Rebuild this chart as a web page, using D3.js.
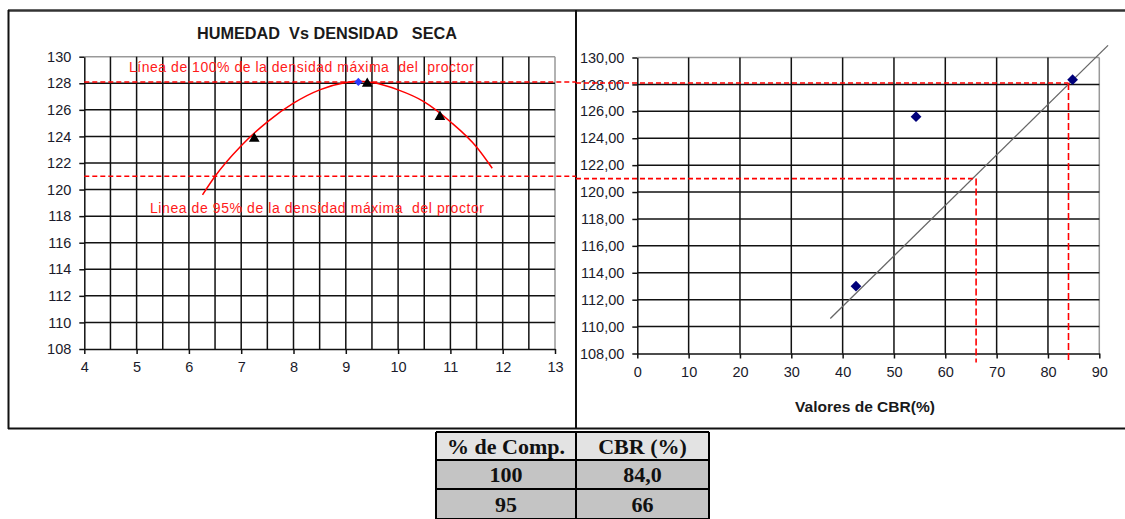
<!DOCTYPE html>
<html>
<head>
<meta charset="utf-8">
<script src="https://cdn.jsdelivr.net/npm/d3@7"></script>
<style>
  html, body { margin: 0; padding: 0; background: #fff; }
  svg { display: block; }
  text { white-space: pre; }
</style>
</head>
<body>
<svg id="chart" width="1125" height="519"></svg>
<script>
// ---- Proctor test: moisture (%) vs dry density ----
const humedad = [7.25, 9.41, 10.80];
const densidadSeca = [123.9, 128.05, 125.55];
// optimum moisture / maximum dry density point
const humedadOptima = [9.24];
const densidadMaxima = [128.1];
// polynomial trendline
const curvaX = [6.26, 6.5, 7.0, 7.5, 8.0, 8.5, 9.0, 9.2, 9.5, 10.0, 10.5, 11.0, 11.5, 11.8];
const curvaY = [119.6, 121.0, 123.3, 125.1, 126.5, 127.5, 128.05, 128.15, 128.05, 127.5, 126.6, 125.1, 123.2, 121.6];

// ---- CBR vs dry density ----
const cbrValores = [42.6, 54.3, 84.8];
const cbrDensidad = [113.0, 125.6, 128.35];
const tendenciaX = [37.6, 91.7];
const tendenciaY = [110.6, 130.9];

// reference density levels (100% and 95% of the proctor)
const nivelesDensidad = [128.1, 121.0];
const etiquetasNivel = ["Línea de 100% de la densidad máxima  del  proctor",
                        "Linea de 95% de la densidad máxima  del proctor"];

// summary table
const tablaEncabezado = ["% de Comp.", "CBR (%)"];
const tablaComp = ["100", "95"];
const tablaCBR = ["84,0", "66"];

// tick values
const ticksHumedad = d3.range(4, 14, 1);
const ticksDensidad = d3.range(108, 131, 2);
const ticksCBR = d3.range(0, 91, 10);

const svg = d3.select("#chart");
const SANS = "'Liberation Sans', Arial, sans-serif";
const SERIF = "'Liberation Serif', 'Times New Roman', serif";

// scales
const xL = d3.scaleLinear().domain([4, 13]).range([84.3, 555]);
const yL = d3.scaleLinear().domain([108, 130]).range([349, 56.7]);
const xR = d3.scaleLinear().domain([0, 90]).range([637.3, 1099.3]);
const yR = d3.scaleLinear().domain([108, 130]).range([353.5, 57.5]);

// ---------- frames ----------
const frame = svg.append("g");
frame.append("line").attr("x1", 8).attr("x2", 1125).attr("y1", 10.5).attr("y2", 10.5)
  .attr("stroke", "#333").attr("stroke-width", 2.5);
frame.append("line").attr("x1", 8).attr("x2", 1125).attr("y1", 428.5).attr("y2", 428.5)
  .attr("stroke", "#111").attr("stroke-width", 2);
frame.append("line").attr("x1", 8.5).attr("x2", 8.5).attr("y1", 10).attr("y2", 429)
  .attr("stroke", "#111").attr("stroke-width", 2);
frame.append("line").attr("x1", 576).attr("x2", 576).attr("y1", 10).attr("y2", 429)
  .attr("stroke", "#111").attr("stroke-width", 2);

// ---------- helper: grid + axes ----------
function drawPanel(g, x, y, xGrid, yGrid, xTicks, yTicks, yFmt) {
  const [x0, x1] = x.range();
  const [y0, y1] = y.range();
  // plot area border (top/right light)
  g.append("line").attr("x1", x0).attr("x2", x1).attr("y1", y1).attr("y2", y1)
    .attr("stroke", "#999").attr("stroke-width", 1.5);
  g.append("line").attr("x1", x1).attr("x2", x1).attr("y1", y1).attr("y2", y0)
    .attr("stroke", "#999").attr("stroke-width", 1.5);
  g.selectAll(".gv").data(xGrid).join("line")
    .attr("x1", d => x(d)).attr("x2", d => x(d)).attr("y1", y1).attr("y2", y0)
    .attr("stroke", "#111").attr("stroke-width", 1.5);
  g.selectAll(".gh").data(yGrid).join("line")
    .attr("x1", x0).attr("x2", x1).attr("y1", d => y(d)).attr("y2", d => y(d))
    .attr("stroke", "#111").attr("stroke-width", 1.5);

  const ax = g.append("g").attr("transform", `translate(0,${y0})`)
    .call(d3.axisBottom(x).tickValues(xTicks).tickSize(5).tickSizeOuter(0).tickPadding(8));
  const ay = g.append("g").attr("transform", `translate(${x0},0)`)
    .call(d3.axisLeft(y).tickValues(yTicks).tickSize(5).tickSizeOuter(0).tickPadding(8).tickFormat(yFmt));
  [ax, ay].forEach(a => {
    a.select(".domain").attr("stroke", "#111").attr("stroke-width", 1.5);
    a.selectAll(".tick line").attr("stroke", "#111").attr("stroke-width", 1.5);
    a.selectAll("text").attr("font-family", SANS).attr("font-size", 14.5).attr("fill", "#1a1a2a");
  });
}

// ---------- left panel ----------
const gl = svg.append("g");
drawPanel(gl, xL, yL,
  d3.range(4.5, 13, 0.5), d3.range(110, 130, 2),
  ticksHumedad, ticksDensidad, d => d);

gl.append("text").attr("x", 327).attr("y", 39).attr("text-anchor", "middle")
  .attr("font-family", SANS).attr("font-weight", "bold").attr("font-size", 16)
  .attr("fill", "#1a1a1a").attr("textLength", 260).attr("lengthAdjust", "spacingAndGlyphs")
  .text("HUMEDAD  Vs DENSIDAD   SECA");

// reference labels
gl.append("text").attr("x", 129).attr("y", 72).attr("font-family", SANS).attr("font-size", 14)
  .attr("fill", "#ff1a1a").attr("textLength", 345).attr("lengthAdjust", "spacing")
  .text(etiquetasNivel[0]);
gl.append("text").attr("x", 150).attr("y", 213).attr("font-family", SANS).attr("font-size", 14)
  .attr("fill", "#ff1a1a").attr("textLength", 334).attr("lengthAdjust", "spacing")
  .text(etiquetasNivel[1]);

// dashed density levels across left panel
gl.selectAll(".nivel").data(nivelesDensidad).join("line")
  .attr("x1", xL(4)).attr("x2", 576).attr("y1", d => yL(d)).attr("y2", d => yL(d))
  .attr("stroke", "#ff0000").attr("stroke-width", 1.6).attr("stroke-dasharray", "5,3");

// trendline
const curva = curvaX.map((v, i) => [v, curvaY[i]]);
gl.append("path").datum(curva)
  .attr("d", d3.line().x(d => xL(d[0])).y(d => yL(d[1])).curve(d3.curveMonotoneX))
  .attr("fill", "none").attr("stroke", "#ff0000").attr("stroke-width", 1.5);

// optimum point (blue diamond)
gl.selectAll(".opt").data(humedadOptima).join("path")
  .attr("d", d3.symbol(d3.symbolSquare, 34))
  .attr("transform", (d, i) => `translate(${xL(d)},${yL(densidadMaxima[i])}) rotate(45)`)
  .attr("fill", "#2b3bff");

// measured points (triangles)
gl.selectAll(".tri").data(humedad).join("path")
  .attr("d", d3.symbol(d3.symbolTriangle, 50))
  .attr("transform", (d, i) => `translate(${xL(d)},${yL(densidadSeca[i]) + 1})`)
  .attr("fill", "#000");

// ---------- right panel ----------
const gr = svg.append("g");
drawPanel(gr, xR, yR,
  d3.range(10, 90, 10), d3.range(110, 130, 2),
  ticksCBR, ticksDensidad, d => d.toFixed(2).replace(".", ","));

gr.append("text").attr("x", 865).attr("y", 412).attr("text-anchor", "middle")
  .attr("font-family", SANS).attr("font-weight", "bold").attr("font-size", 14.5)
  .attr("fill", "#1a1a1a").attr("textLength", 140).attr("lengthAdjust", "spacingAndGlyphs")
  .text("Valores de CBR(%)");

// linear trendline
gr.append("line")
  .attr("x1", xR(tendenciaX[0])).attr("y1", yR(tendenciaY[0]))
  .attr("x2", xR(tendenciaX[1])).attr("y2", yR(tendenciaY[1]))
  .attr("stroke", "#666").attr("stroke-width", 1.3);

// reference lines: horizontal to the CBR value, then down to the axis
const cbrRef = tablaCBR.map(s => +s.replace(",", "."));
gr.selectAll(".nivelR").data(nivelesDensidad).join("line")
  .attr("x1", 576).attr("x2", (d, i) => xR(cbrRef[i]))
  .attr("y1", d => yR(d)).attr("y2", d => yR(d))
  .attr("stroke", "#ff0000").attr("stroke-width", 1.6).attr("stroke-dasharray", "5,3");
gr.selectAll(".caida").data(nivelesDensidad).join("line")
  .attr("x1", (d, i) => xR(cbrRef[i])).attr("x2", (d, i) => xR(cbrRef[i]))
  .attr("y1", d => yR(d)).attr("y2", yR(108) + 9)
  .attr("stroke", "#ff0000").attr("stroke-width", 1.6).attr("stroke-dasharray", "7,3");

// CBR points (navy diamonds)
gr.selectAll(".pt").data(cbrValores).join("path")
  .attr("d", d3.symbol(d3.symbolSquare, 58))
  .attr("transform", (d, i) => `translate(${xR(d)},${yR(cbrDensidad[i])}) rotate(45)`)
  .attr("fill", "#00007a");

// ---------- summary table ----------
const tb = svg.append("g");
const colX = [436, 576, 709];
const rowY = [432, 460, 489, 519];
const filas = [tablaEncabezado].concat(tablaComp.map((c, i) => [c, tablaCBR[i]]));
filas.forEach((fila, r) => {
  fila.forEach((txt, c) => {
    tb.append("rect").attr("x", colX[c]).attr("y", rowY[r])
      .attr("width", colX[c + 1] - colX[c]).attr("height", rowY[r + 1] - rowY[r])
      .attr("fill", r === 0 ? "#e3e3e3" : "#c4c4c4");
    tb.append("text").attr("x", (colX[c] + colX[c + 1]) / 2).attr("y", (rowY[r] + rowY[r + 1]) / 2 + 7.5)
      .attr("text-anchor", "middle").attr("font-family", SERIF).attr("font-weight", "bold")
      .attr("font-size", 22).attr("fill", "#111").text(txt);
  });
});
// table grid
rowY.forEach(y => tb.append("line").attr("x1", colX[0]).attr("x2", colX[2]).attr("y1", y).attr("y2", y)
  .attr("stroke", "#000").attr("stroke-width", 2));
colX.forEach(x => tb.append("line").attr("x1", x).attr("x2", x).attr("y1", rowY[0]).attr("y2", 519)
  .attr("stroke", "#000").attr("stroke-width", 2));
</script>
</body>
</html>
